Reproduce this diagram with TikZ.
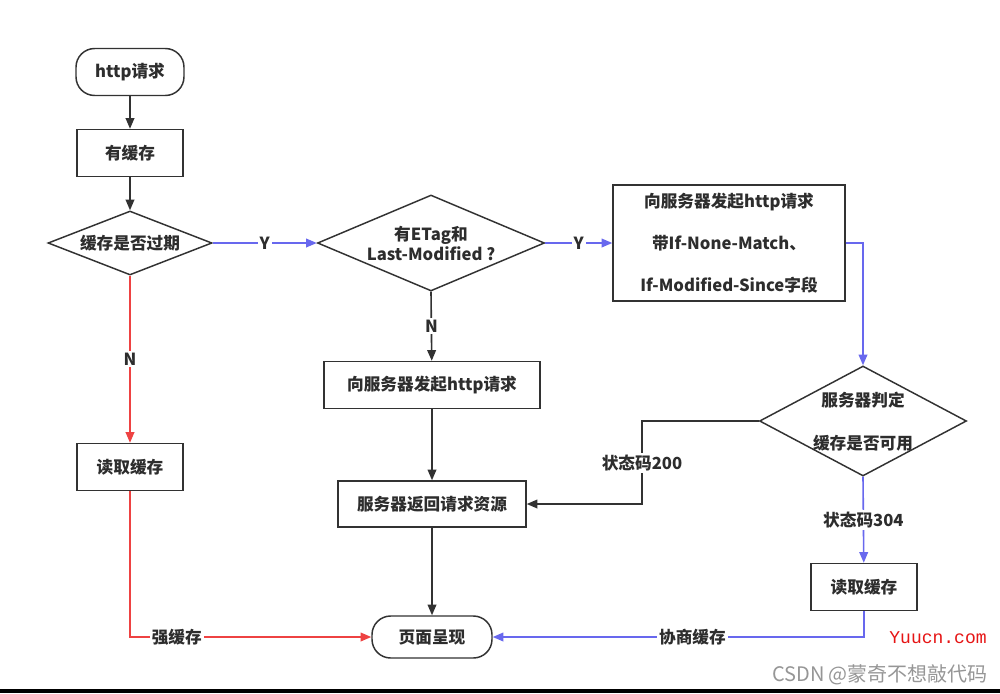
\documentclass[tikz,border=0pt]{standalone}
\usepackage{fontspec}
\setmainfont{Noto Sans CJK SC}
\setmonofont{Liberation Mono}
\usetikzlibrary{arrows.meta,shapes.geometric}
\definecolor{lred}{RGB}{238,66,66}
\definecolor{lblue}{RGB}{104,104,238}
\definecolor{dk}{RGB}{50,50,50}
\definecolor{txt}{RGB}{45,45,45}
\begin{document}
\begin{tikzpicture}[x=0.75pt,y=-0.75pt,
  every node/.style={font=\bfseries\fontsize{12.5}{15}\selectfont, text=txt},
  wh/.style 2 args={minimum width={#1*0.75pt},minimum height={#2*0.75pt}},
  box/.style={draw=dk, line width=1.1pt, rectangle, inner sep=0pt},
  term/.style={box, rounded corners=14pt},
  dia/.style={draw=dk, line width=1.1pt, diamond, inner sep=0pt},
  conn/.style={line width=1.2pt, -{Triangle[length=8pt,width=6.5pt]}},
  blk/.style={conn, draw=dk},
  redl/.style={conn, draw=lred},
  bluel/.style={conn, draw=lblue},
  lbl/.style={fill=white, inner sep=1.5pt},
]
\useasboundingbox (0,0) rectangle (1000,693);
\fill[white] (0,0) rectangle (1000,693);

% nodes
\node[term, wh={108}{47}] (start) at (130,72) {http请求};
\node[box, wh={106}{47}] (has) at (130,153) {有缓存};
\node[dia, wh={164}{64}] (d1) at (130,243) {};
\node (t1) at (130,243) {缓存是否过期};
\node[dia, wh={227}{96}] (d2) at (431,243) {};
\node[align=center] (t2) at (431,243) {有ETag和\\Last-Modified ?};
\node[box, wh={232}{116}, align=center, font=\bfseries\fontsize{12.5}{31.5}\selectfont] (r1) at (729,243) {向服务器发起http请求\\带If-None-Match、\\If-Modified-Since字段};
\node[dia, wh={207}{110}] (d3) at (863,421) {};
\node[align=center, font=\bfseries\fontsize{12.5}{32}\selectfont] (t3) at (863,421.5) {服务器判定\\缓存是否可用};
\node[box, wh={216}{47}] (m1) at (432,385) {向服务器发起http请求};
\node[box, wh={188}{46}] (m2) at (432,504) {服务器返回请求资源};
\node[term, wh={120}{42}] (end) at (432,637) {页面呈现};
\node[box, wh={106}{47}] (l1) at (130,467) {读取缓存};
\node[box, wh={106}{47}] (r2) at (864,587) {读取缓存};
\coordinate (c200) at (642,463);

% connectors
\draw[blk] (start) -- (has);
\draw[blk] (has) -- (d1);
\draw[redl] (d1.south) -- node[lbl]{N} (l1);
\draw[redl] (l1.south) |- node[lbl,pos=0.597]{强缓存} (end.west);
\draw[bluel] (d1.east) -- node[lbl]{Y} (d2.west);
\draw[bluel] (d2.east) -- node[lbl]{Y} (r1.west);
\draw[blk] (d2.south) -- node[lbl]{N} (m1);
\draw[blk] (m1) -- (m2);
\draw[blk] (m2) -- (end);
\draw[bluel] (r1.east) -| (d3.north);
\draw[blk] (d3.west) -| (c200) node[lbl]{状态码200} |- (m2.east);
\draw[bluel] (d3.south) -- node[lbl]{状态码304} (r2);
\draw[bluel] (r2.south) |- node[lbl,pos=0.731]{协商缓存} (end.east);

% watermarks
\node[font=\fontsize{13.5}{14}\ttfamily, text={rgb,255:red,230;green,20;blue,20}] (wm1) at (938,638) {Yuucn.com};
\node[font=\fontsize{15}{16}\selectfont, text={rgb,255:red,150;green,150;blue,150}] (wm2) at (880,675) {CSDN @蒙奇不想敲代码};
\fill[black] (0,689) rectangle (1000,693);
\end{tikzpicture}
\end{document}
